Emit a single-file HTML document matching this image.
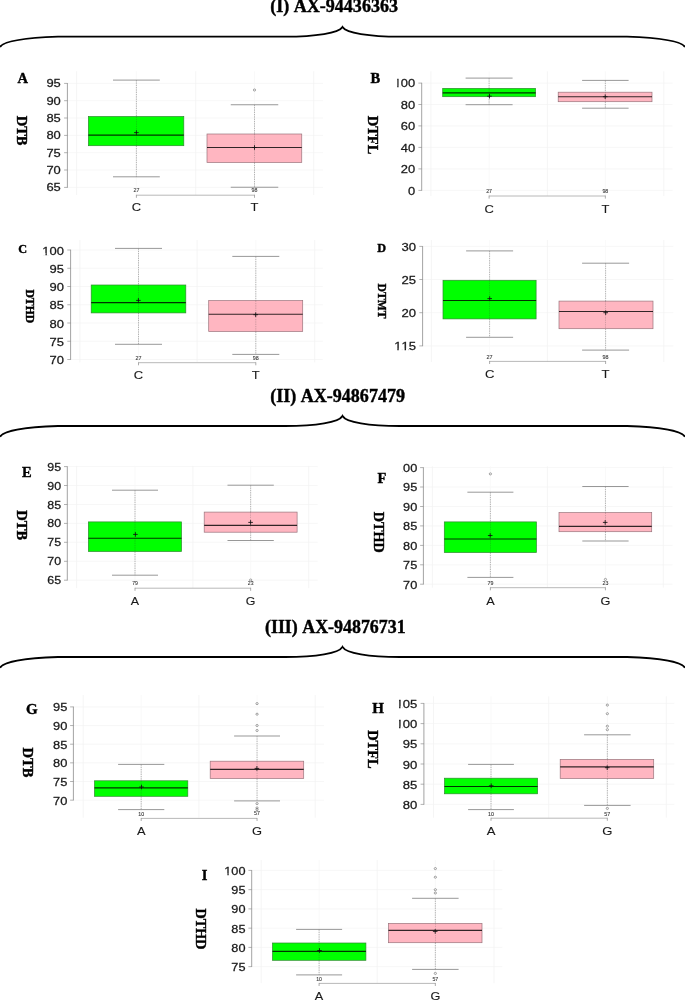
<!DOCTYPE html>
<html><head><meta charset="utf-8"><title>Figure</title>
<style>
html,body{margin:0;padding:0;background:#fff;}
svg{display:block;font-family:"Liberation Sans",sans-serif;font-kerning:none;}
.sf{font-family:"Liberation Serif",serif;font-weight:bold;fill:#000;stroke:#000;stroke-width:0.4px;}
</style></head><body>
<svg width="685" height="1000" viewBox="0 0 685 1000">
<rect width="685" height="1000" fill="#fff"/>
<path d="M0,47 C3,41.5 20,38.0 58,36.6 L285,36.6 C316,36.6 339,33.0 342.5,27.0 C346.0,33.0 369.0,36.6 400.0,36.6 L627.0,36.6 C665.0,38.0 682.0,41.5 685.0,47" fill="none" stroke="#000" stroke-width="1.8" stroke-linejoin="miter" stroke-miterlimit="10"/>
<text x="334.1" y="12" class="sf" font-size="18.05" text-anchor="middle">(I) AX-94436363</text>
<path d="M0,436.8 C3,431.3 20,427.4 58,426.0 L285,426.0 C316,426.0 339,422.4 342.5,416.0 C346.0,422.4 369.0,426.0 400.0,426.0 L627.0,426.0 C665.0,427.4 682.0,431.3 685.0,436.8" fill="none" stroke="#000" stroke-width="1.8" stroke-linejoin="miter" stroke-miterlimit="10"/>
<text x="337.6" y="401.8" class="sf" font-size="18.05" text-anchor="middle">(II) AX-94867479</text>
<path d="M0,667.8 C3,662.3 20,658.4 58,657.0 L285,657.0 C316,657.0 339,653.4 342.5,646.9 C346.0,653.4 369.0,657.0 400.0,657.0 L627.0,657.0 C665.0,658.4 682.0,662.3 685.0,667.8" fill="none" stroke="#000" stroke-width="1.8" stroke-linejoin="miter" stroke-miterlimit="10"/>
<text x="335.3" y="632.8" class="sf" font-size="17.9" text-anchor="middle">(III) AX-94876731</text>
<line x1="67.40" y1="83.40" x2="323.00" y2="83.40" stroke="#f5f5f5" stroke-width="0.8"/>
<line x1="67.40" y1="100.70" x2="323.00" y2="100.70" stroke="#f5f5f5" stroke-width="0.8"/>
<line x1="67.40" y1="118.00" x2="323.00" y2="118.00" stroke="#f5f5f5" stroke-width="0.8"/>
<line x1="67.40" y1="135.40" x2="323.00" y2="135.40" stroke="#f5f5f5" stroke-width="0.8"/>
<line x1="67.40" y1="152.70" x2="323.00" y2="152.70" stroke="#f5f5f5" stroke-width="0.8"/>
<line x1="67.40" y1="170.00" x2="323.00" y2="170.00" stroke="#f5f5f5" stroke-width="0.8"/>
<line x1="67.40" y1="187.40" x2="323.00" y2="187.40" stroke="#f5f5f5" stroke-width="0.8"/>
<line x1="76.60" y1="71.30" x2="76.60" y2="195.00" stroke="#f3f3f3" stroke-width="0.8"/>
<line x1="195.75" y1="71.30" x2="195.75" y2="195.00" stroke="#f3f3f3" stroke-width="0.8"/>
<line x1="313.75" y1="71.30" x2="313.75" y2="195.00" stroke="#f3f3f3" stroke-width="0.8"/>
<line x1="136.40" y1="71.30" x2="136.40" y2="195.00" stroke="#f7f7f7" stroke-width="0.8"/>
<line x1="254.50" y1="71.30" x2="254.50" y2="195.00" stroke="#f7f7f7" stroke-width="0.8"/>
<line x1="67.40" y1="83.10" x2="67.40" y2="187.70" stroke="#8c8c8c" stroke-width="0.8"/>
<line x1="64.10" y1="83.40" x2="67.40" y2="83.40" stroke="#808080" stroke-width="0.6"/>
<line x1="64.10" y1="100.70" x2="67.40" y2="100.70" stroke="#808080" stroke-width="0.6"/>
<line x1="64.10" y1="118.00" x2="67.40" y2="118.00" stroke="#808080" stroke-width="0.6"/>
<line x1="64.10" y1="135.40" x2="67.40" y2="135.40" stroke="#808080" stroke-width="0.6"/>
<line x1="64.10" y1="152.70" x2="67.40" y2="152.70" stroke="#808080" stroke-width="0.6"/>
<line x1="64.10" y1="170.00" x2="67.40" y2="170.00" stroke="#808080" stroke-width="0.6"/>
<line x1="64.10" y1="187.40" x2="67.40" y2="187.40" stroke="#808080" stroke-width="0.6"/>
<text transform="translate(60.75,87.45) scale(1.155,1)" font-size="11.2" text-anchor="end" fill="#1a1a1a" stroke="#1a1a1a" stroke-width="0.26">95</text>
<text transform="translate(60.75,104.75) scale(1.155,1)" font-size="11.2" text-anchor="end" fill="#1a1a1a" stroke="#1a1a1a" stroke-width="0.26">90</text>
<text transform="translate(60.75,122.05) scale(1.155,1)" font-size="11.2" text-anchor="end" fill="#1a1a1a" stroke="#1a1a1a" stroke-width="0.26">85</text>
<text transform="translate(60.75,139.45) scale(1.155,1)" font-size="11.2" text-anchor="end" fill="#1a1a1a" stroke="#1a1a1a" stroke-width="0.26">80</text>
<text transform="translate(60.75,156.75) scale(1.155,1)" font-size="11.2" text-anchor="end" fill="#1a1a1a" stroke="#1a1a1a" stroke-width="0.26">75</text>
<text transform="translate(60.75,174.05) scale(1.155,1)" font-size="11.2" text-anchor="end" fill="#1a1a1a" stroke="#1a1a1a" stroke-width="0.26">70</text>
<text transform="translate(60.75,191.45) scale(1.155,1)" font-size="11.2" text-anchor="end" fill="#1a1a1a" stroke="#1a1a1a" stroke-width="0.26">65</text>
<text x="17.60" y="83.40" class="sf" font-size="14.5" text-anchor="start">A</text>
<text transform="translate(16.80,130.60) rotate(90)" class="sf" font-size="14.5" text-anchor="middle">DTB</text>
<line x1="136.40" y1="80.10" x2="136.40" y2="116.50" stroke="#7a7a7a" stroke-width="0.55" stroke-dasharray="1.4 0.9"/>
<line x1="136.40" y1="145.70" x2="136.40" y2="176.80" stroke="#7a7a7a" stroke-width="0.55" stroke-dasharray="1.4 0.9"/>
<line x1="113.00" y1="80.10" x2="159.80" y2="80.10" stroke="#858585" stroke-width="0.85"/>
<line x1="113.00" y1="176.80" x2="159.80" y2="176.80" stroke="#858585" stroke-width="0.85"/>
<rect x="88.40" y="116.50" width="95.40" height="29.20" fill="#00ff00" stroke="#2e8a2e" stroke-width="0.7"/>
<line x1="136.40" y1="116.50" x2="136.40" y2="145.70" stroke="#333" stroke-width="0.5" stroke-dasharray="1.4 0.9" opacity="0.45"/>
<line x1="88.40" y1="135.10" x2="183.80" y2="135.10" stroke="#000" stroke-width="1.15" opacity="0.8"/>
<line x1="134.10" y1="132.60" x2="138.70" y2="132.60" stroke="#111" stroke-width="0.85"/>
<line x1="136.40" y1="130.30" x2="136.40" y2="134.90" stroke="#111" stroke-width="0.85"/>
<text transform="translate(136.40,192.10) scale(1.155,1)" font-size="4.6" text-anchor="middle" fill="#333" stroke="#333" stroke-width="0.08">27</text>
<text transform="translate(136.40,211.30) scale(1.155,1)" font-size="11.2" text-anchor="middle" fill="#1a1a1a" stroke="#1a1a1a" stroke-width="0.1">C</text>
<line x1="254.50" y1="104.75" x2="254.50" y2="134.00" stroke="#7a7a7a" stroke-width="0.55" stroke-dasharray="1.4 0.9"/>
<line x1="254.50" y1="162.50" x2="254.50" y2="187.25" stroke="#7a7a7a" stroke-width="0.55" stroke-dasharray="1.4 0.9"/>
<line x1="230.75" y1="104.75" x2="278.25" y2="104.75" stroke="#858585" stroke-width="0.85"/>
<line x1="230.75" y1="187.25" x2="278.25" y2="187.25" stroke="#858585" stroke-width="0.85"/>
<rect x="207.00" y="134.00" width="94.75" height="28.50" fill="#ffb6c1" stroke="#9a747c" stroke-width="0.7"/>
<line x1="254.50" y1="134.00" x2="254.50" y2="162.50" stroke="#333" stroke-width="0.5" stroke-dasharray="1.4 0.9" opacity="0.45"/>
<line x1="207.00" y1="147.50" x2="301.75" y2="147.50" stroke="#000" stroke-width="1.15" opacity="0.8"/>
<line x1="252.20" y1="147.50" x2="256.80" y2="147.50" stroke="#111" stroke-width="0.85"/>
<line x1="254.50" y1="145.20" x2="254.50" y2="149.80" stroke="#111" stroke-width="0.85"/>
<ellipse cx="254.50" cy="90.00" rx="1.15" ry="1.05" fill="none" stroke="#505050" stroke-width="0.5"/>
<text transform="translate(254.50,192.10) scale(1.155,1)" font-size="4.6" text-anchor="middle" fill="#333" stroke="#333" stroke-width="0.08">98</text>
<text transform="translate(254.50,211.30) scale(1.155,1)" font-size="11.2" text-anchor="middle" fill="#1a1a1a" stroke="#1a1a1a" stroke-width="0.1">T</text>
<line x1="136.40" y1="195.20" x2="254.50" y2="195.20" stroke="#b0b0b0" stroke-width="0.9"/>
<line x1="136.40" y1="194.80" x2="136.40" y2="197.80" stroke="#888" stroke-width="0.7"/>
<line x1="254.50" y1="194.80" x2="254.50" y2="197.80" stroke="#888" stroke-width="0.7"/>
<line x1="421.70" y1="83.10" x2="672.50" y2="83.10" stroke="#f5f5f5" stroke-width="0.8"/>
<line x1="421.70" y1="104.50" x2="672.50" y2="104.50" stroke="#f5f5f5" stroke-width="0.8"/>
<line x1="421.70" y1="125.90" x2="672.50" y2="125.90" stroke="#f5f5f5" stroke-width="0.8"/>
<line x1="421.70" y1="147.40" x2="672.50" y2="147.40" stroke="#f5f5f5" stroke-width="0.8"/>
<line x1="421.70" y1="168.90" x2="672.50" y2="168.90" stroke="#f5f5f5" stroke-width="0.8"/>
<line x1="421.70" y1="190.40" x2="672.50" y2="190.40" stroke="#f5f5f5" stroke-width="0.8"/>
<line x1="430.90" y1="71.30" x2="430.90" y2="196.00" stroke="#f3f3f3" stroke-width="0.8"/>
<line x1="547.40" y1="71.30" x2="547.40" y2="196.00" stroke="#f3f3f3" stroke-width="0.8"/>
<line x1="663.80" y1="71.30" x2="663.80" y2="196.00" stroke="#f3f3f3" stroke-width="0.8"/>
<line x1="489.10" y1="71.30" x2="489.10" y2="196.00" stroke="#f7f7f7" stroke-width="0.8"/>
<line x1="605.35" y1="71.30" x2="605.35" y2="196.00" stroke="#f7f7f7" stroke-width="0.8"/>
<line x1="421.70" y1="82.80" x2="421.70" y2="190.70" stroke="#8c8c8c" stroke-width="0.8"/>
<line x1="418.40" y1="83.10" x2="421.70" y2="83.10" stroke="#808080" stroke-width="0.6"/>
<line x1="418.40" y1="104.50" x2="421.70" y2="104.50" stroke="#808080" stroke-width="0.6"/>
<line x1="418.40" y1="125.90" x2="421.70" y2="125.90" stroke="#808080" stroke-width="0.6"/>
<line x1="418.40" y1="147.40" x2="421.70" y2="147.40" stroke="#808080" stroke-width="0.6"/>
<line x1="418.40" y1="168.90" x2="421.70" y2="168.90" stroke="#808080" stroke-width="0.6"/>
<line x1="418.40" y1="190.40" x2="421.70" y2="190.40" stroke="#808080" stroke-width="0.6"/>
<text transform="translate(415.20,87.20) scale(1.155,1)" font-size="11.2" text-anchor="end" fill="#1a1a1a" stroke="#1a1a1a" stroke-width="0.26"><tspan>1</tspan><tspan dx="-0.4">00</tspan></text>
<rect x="398.61" y="85.80" width="2.33" height="2.7" fill="#fff"/>
<rect x="384.19" y="77.10" width="13" height="12" fill="#fff"/>
<text transform="translate(415.20,108.60) scale(1.155,1)" font-size="11.2" text-anchor="end" fill="#1a1a1a" stroke="#1a1a1a" stroke-width="0.26">80</text>
<text transform="translate(415.20,130.00) scale(1.155,1)" font-size="11.2" text-anchor="end" fill="#1a1a1a" stroke="#1a1a1a" stroke-width="0.26">60</text>
<text transform="translate(415.20,151.50) scale(1.155,1)" font-size="11.2" text-anchor="end" fill="#1a1a1a" stroke="#1a1a1a" stroke-width="0.26">40</text>
<text transform="translate(415.20,173.00) scale(1.155,1)" font-size="11.2" text-anchor="end" fill="#1a1a1a" stroke="#1a1a1a" stroke-width="0.26">20</text>
<text transform="translate(415.20,194.50) scale(1.155,1)" font-size="11.2" text-anchor="end" fill="#1a1a1a" stroke="#1a1a1a" stroke-width="0.26">0</text>
<text x="370.60" y="83.40" class="sf" font-size="14.5" text-anchor="start">B</text>
<text transform="translate(368.00,135.00) rotate(90)" class="sf" font-size="14.5" text-anchor="middle">DTFL</text>
<line x1="489.10" y1="78.10" x2="489.10" y2="88.40" stroke="#7a7a7a" stroke-width="0.55" stroke-dasharray="1.4 0.9"/>
<line x1="489.10" y1="96.70" x2="489.10" y2="104.70" stroke="#7a7a7a" stroke-width="0.55" stroke-dasharray="1.4 0.9"/>
<line x1="465.60" y1="78.10" x2="512.60" y2="78.10" stroke="#858585" stroke-width="0.85"/>
<line x1="465.60" y1="104.70" x2="512.60" y2="104.70" stroke="#858585" stroke-width="0.85"/>
<rect x="442.70" y="88.40" width="92.90" height="8.30" fill="#00ff00" stroke="#2e8a2e" stroke-width="0.7"/>
<line x1="489.10" y1="88.40" x2="489.10" y2="96.70" stroke="#333" stroke-width="0.5" stroke-dasharray="1.4 0.9" opacity="0.45"/>
<line x1="442.70" y1="92.90" x2="535.60" y2="92.90" stroke="#000" stroke-width="1.15" opacity="0.8"/>
<line x1="487.20" y1="96.20" x2="491.80" y2="96.20" stroke="#111" stroke-width="0.85"/>
<line x1="489.50" y1="93.90" x2="489.50" y2="98.50" stroke="#111" stroke-width="0.85"/>
<text transform="translate(489.10,192.90) scale(1.155,1)" font-size="4.6" text-anchor="middle" fill="#333" stroke="#333" stroke-width="0.08">27</text>
<text transform="translate(489.10,212.70) scale(1.155,1)" font-size="11.2" text-anchor="middle" fill="#1a1a1a" stroke="#1a1a1a" stroke-width="0.1">C</text>
<line x1="605.35" y1="80.40" x2="605.35" y2="92.20" stroke="#7a7a7a" stroke-width="0.55" stroke-dasharray="1.4 0.9"/>
<line x1="605.35" y1="101.70" x2="605.35" y2="108.20" stroke="#7a7a7a" stroke-width="0.55" stroke-dasharray="1.4 0.9"/>
<line x1="582.10" y1="80.40" x2="628.60" y2="80.40" stroke="#858585" stroke-width="0.85"/>
<line x1="582.10" y1="108.20" x2="628.60" y2="108.20" stroke="#858585" stroke-width="0.85"/>
<rect x="558.20" y="92.20" width="93.80" height="9.50" fill="#ffb6c1" stroke="#9a747c" stroke-width="0.7"/>
<line x1="605.35" y1="92.20" x2="605.35" y2="101.70" stroke="#333" stroke-width="0.5" stroke-dasharray="1.4 0.9" opacity="0.45"/>
<line x1="558.20" y1="96.70" x2="652.00" y2="96.70" stroke="#000" stroke-width="1.15" opacity="0.8"/>
<line x1="602.90" y1="96.70" x2="607.50" y2="96.70" stroke="#111" stroke-width="0.85"/>
<line x1="605.20" y1="94.40" x2="605.20" y2="99.00" stroke="#111" stroke-width="0.85"/>
<text transform="translate(605.35,192.90) scale(1.155,1)" font-size="4.6" text-anchor="middle" fill="#333" stroke="#333" stroke-width="0.08">98</text>
<text transform="translate(605.35,212.70) scale(1.155,1)" font-size="11.2" text-anchor="middle" fill="#1a1a1a" stroke="#1a1a1a" stroke-width="0.1">T</text>
<line x1="489.10" y1="196.00" x2="605.35" y2="196.00" stroke="#b0b0b0" stroke-width="0.9"/>
<line x1="489.10" y1="195.60" x2="489.10" y2="198.60" stroke="#888" stroke-width="0.7"/>
<line x1="605.35" y1="195.60" x2="605.35" y2="198.60" stroke="#888" stroke-width="0.7"/>
<line x1="70.60" y1="250.00" x2="322.80" y2="250.00" stroke="#f5f5f5" stroke-width="0.8"/>
<line x1="70.60" y1="268.25" x2="322.80" y2="268.25" stroke="#f5f5f5" stroke-width="0.8"/>
<line x1="70.60" y1="286.50" x2="322.80" y2="286.50" stroke="#f5f5f5" stroke-width="0.8"/>
<line x1="70.60" y1="304.75" x2="322.80" y2="304.75" stroke="#f5f5f5" stroke-width="0.8"/>
<line x1="70.60" y1="323.00" x2="322.80" y2="323.00" stroke="#f5f5f5" stroke-width="0.8"/>
<line x1="70.60" y1="341.25" x2="322.80" y2="341.25" stroke="#f5f5f5" stroke-width="0.8"/>
<line x1="70.60" y1="359.50" x2="322.80" y2="359.50" stroke="#f5f5f5" stroke-width="0.8"/>
<line x1="79.90" y1="240.00" x2="79.90" y2="362.40" stroke="#f3f3f3" stroke-width="0.8"/>
<line x1="197.10" y1="240.00" x2="197.10" y2="362.40" stroke="#f3f3f3" stroke-width="0.8"/>
<line x1="314.70" y1="240.00" x2="314.70" y2="362.40" stroke="#f3f3f3" stroke-width="0.8"/>
<line x1="138.50" y1="240.00" x2="138.50" y2="362.40" stroke="#f7f7f7" stroke-width="0.8"/>
<line x1="255.80" y1="240.00" x2="255.80" y2="362.40" stroke="#f7f7f7" stroke-width="0.8"/>
<line x1="70.60" y1="249.70" x2="70.60" y2="359.80" stroke="#8c8c8c" stroke-width="0.8"/>
<line x1="67.30" y1="250.00" x2="70.60" y2="250.00" stroke="#808080" stroke-width="0.6"/>
<line x1="67.30" y1="268.25" x2="70.60" y2="268.25" stroke="#808080" stroke-width="0.6"/>
<line x1="67.30" y1="286.50" x2="70.60" y2="286.50" stroke="#808080" stroke-width="0.6"/>
<line x1="67.30" y1="304.75" x2="70.60" y2="304.75" stroke="#808080" stroke-width="0.6"/>
<line x1="67.30" y1="323.00" x2="70.60" y2="323.00" stroke="#808080" stroke-width="0.6"/>
<line x1="67.30" y1="341.25" x2="70.60" y2="341.25" stroke="#808080" stroke-width="0.6"/>
<line x1="67.30" y1="359.50" x2="70.60" y2="359.50" stroke="#808080" stroke-width="0.6"/>
<text transform="translate(64.00,254.50) scale(1.16,1)" font-size="11.2" text-anchor="end" fill="#1a1a1a" stroke="#1a1a1a" stroke-width="0.26">100</text>
<rect x="43.01" y="253.10" width="2.44" height="2.7" fill="#fff"/>
<rect x="46.88" y="253.10" width="2.34" height="2.7" fill="#fff"/>
<text transform="translate(64.00,272.75) scale(1.16,1)" font-size="11.2" text-anchor="end" fill="#1a1a1a" stroke="#1a1a1a" stroke-width="0.26">95</text>
<text transform="translate(64.00,291.00) scale(1.16,1)" font-size="11.2" text-anchor="end" fill="#1a1a1a" stroke="#1a1a1a" stroke-width="0.26">90</text>
<text transform="translate(64.00,309.25) scale(1.16,1)" font-size="11.2" text-anchor="end" fill="#1a1a1a" stroke="#1a1a1a" stroke-width="0.26">85</text>
<text transform="translate(64.00,327.50) scale(1.16,1)" font-size="11.2" text-anchor="end" fill="#1a1a1a" stroke="#1a1a1a" stroke-width="0.26">80</text>
<text transform="translate(64.00,345.75) scale(1.16,1)" font-size="11.2" text-anchor="end" fill="#1a1a1a" stroke="#1a1a1a" stroke-width="0.26">75</text>
<text transform="translate(64.00,364.00) scale(1.16,1)" font-size="11.2" text-anchor="end" fill="#1a1a1a" stroke="#1a1a1a" stroke-width="0.26">70</text>
<text x="18.20" y="253.30" class="sf" font-size="12.2" text-anchor="start">C</text>
<text transform="translate(26.30,306.30) rotate(90)" class="sf" font-size="11.7" text-anchor="middle">DTHD</text>
<line x1="138.50" y1="248.40" x2="138.50" y2="285.00" stroke="#7a7a7a" stroke-width="0.55" stroke-dasharray="1.4 0.9"/>
<line x1="138.50" y1="312.90" x2="138.50" y2="344.30" stroke="#7a7a7a" stroke-width="0.55" stroke-dasharray="1.4 0.9"/>
<line x1="115.00" y1="248.40" x2="162.00" y2="248.40" stroke="#858585" stroke-width="0.85"/>
<line x1="115.00" y1="344.30" x2="162.00" y2="344.30" stroke="#858585" stroke-width="0.85"/>
<rect x="91.20" y="285.00" width="94.60" height="27.90" fill="#00ff00" stroke="#2e8a2e" stroke-width="0.7"/>
<line x1="138.50" y1="285.00" x2="138.50" y2="312.90" stroke="#333" stroke-width="0.5" stroke-dasharray="1.4 0.9" opacity="0.45"/>
<line x1="91.20" y1="302.60" x2="185.80" y2="302.60" stroke="#000" stroke-width="1.15" opacity="0.8"/>
<line x1="136.10" y1="300.40" x2="140.70" y2="300.40" stroke="#111" stroke-width="0.85"/>
<line x1="138.40" y1="298.10" x2="138.40" y2="302.70" stroke="#111" stroke-width="0.85"/>
<text transform="translate(138.50,359.60) scale(1.16,1)" font-size="4.6" text-anchor="middle" fill="#333" stroke="#333" stroke-width="0.08">27</text>
<text transform="translate(138.50,379.00) scale(1.16,1)" font-size="11.2" text-anchor="middle" fill="#1a1a1a" stroke="#1a1a1a" stroke-width="0.1">C</text>
<line x1="255.80" y1="256.40" x2="255.80" y2="300.60" stroke="#7a7a7a" stroke-width="0.55" stroke-dasharray="1.4 0.9"/>
<line x1="255.80" y1="331.50" x2="255.80" y2="354.40" stroke="#7a7a7a" stroke-width="0.55" stroke-dasharray="1.4 0.9"/>
<line x1="232.30" y1="256.40" x2="279.30" y2="256.40" stroke="#858585" stroke-width="0.85"/>
<line x1="232.30" y1="354.40" x2="279.30" y2="354.40" stroke="#858585" stroke-width="0.85"/>
<rect x="208.70" y="300.60" width="94.00" height="30.90" fill="#ffb6c1" stroke="#9a747c" stroke-width="0.7"/>
<line x1="255.80" y1="300.60" x2="255.80" y2="331.50" stroke="#333" stroke-width="0.5" stroke-dasharray="1.4 0.9" opacity="0.45"/>
<line x1="208.70" y1="314.20" x2="302.70" y2="314.20" stroke="#000" stroke-width="1.15" opacity="0.8"/>
<line x1="253.40" y1="314.70" x2="258.00" y2="314.70" stroke="#111" stroke-width="0.85"/>
<line x1="255.70" y1="312.40" x2="255.70" y2="317.00" stroke="#111" stroke-width="0.85"/>
<text transform="translate(255.80,359.60) scale(1.16,1)" font-size="4.6" text-anchor="middle" fill="#333" stroke="#333" stroke-width="0.08">98</text>
<text transform="translate(255.80,379.00) scale(1.16,1)" font-size="11.2" text-anchor="middle" fill="#1a1a1a" stroke="#1a1a1a" stroke-width="0.1">T</text>
<line x1="138.50" y1="362.70" x2="255.80" y2="362.70" stroke="#b0b0b0" stroke-width="0.9"/>
<line x1="138.50" y1="362.30" x2="138.50" y2="365.30" stroke="#888" stroke-width="0.7"/>
<line x1="255.80" y1="362.30" x2="255.80" y2="365.30" stroke="#888" stroke-width="0.7"/>
<line x1="422.60" y1="246.40" x2="673.30" y2="246.40" stroke="#f5f5f5" stroke-width="0.8"/>
<line x1="422.60" y1="279.50" x2="673.30" y2="279.50" stroke="#f5f5f5" stroke-width="0.8"/>
<line x1="422.60" y1="312.70" x2="673.30" y2="312.70" stroke="#f5f5f5" stroke-width="0.8"/>
<line x1="422.60" y1="345.90" x2="673.30" y2="345.90" stroke="#f5f5f5" stroke-width="0.8"/>
<line x1="431.40" y1="240.00" x2="431.40" y2="362.00" stroke="#f3f3f3" stroke-width="0.8"/>
<line x1="547.40" y1="240.00" x2="547.40" y2="362.00" stroke="#f3f3f3" stroke-width="0.8"/>
<line x1="663.80" y1="240.00" x2="663.80" y2="362.00" stroke="#f3f3f3" stroke-width="0.8"/>
<line x1="489.60" y1="240.00" x2="489.60" y2="362.00" stroke="#f7f7f7" stroke-width="0.8"/>
<line x1="605.60" y1="240.00" x2="605.60" y2="362.00" stroke="#f7f7f7" stroke-width="0.8"/>
<line x1="422.60" y1="246.10" x2="422.60" y2="346.20" stroke="#8c8c8c" stroke-width="0.8"/>
<line x1="419.30" y1="246.40" x2="422.60" y2="246.40" stroke="#808080" stroke-width="0.6"/>
<line x1="419.30" y1="279.50" x2="422.60" y2="279.50" stroke="#808080" stroke-width="0.6"/>
<line x1="419.30" y1="312.70" x2="422.60" y2="312.70" stroke="#808080" stroke-width="0.6"/>
<line x1="419.30" y1="345.90" x2="422.60" y2="345.90" stroke="#808080" stroke-width="0.6"/>
<text transform="translate(416.00,250.60) scale(1.17,1)" font-size="11.2" text-anchor="end" fill="#1a1a1a" stroke="#1a1a1a" stroke-width="0.26">30</text>
<text transform="translate(416.00,283.70) scale(1.17,1)" font-size="11.2" text-anchor="end" fill="#1a1a1a" stroke="#1a1a1a" stroke-width="0.26">25</text>
<text transform="translate(416.00,316.90) scale(1.17,1)" font-size="11.2" text-anchor="end" fill="#1a1a1a" stroke="#1a1a1a" stroke-width="0.26">20</text>
<text transform="translate(416.00,350.10) scale(1.17,1)" font-size="11.2" text-anchor="end" fill="#1a1a1a" stroke="#1a1a1a" stroke-width="0.26">115</text>
<rect x="394.83" y="348.70" width="2.46" height="2.7" fill="#fff"/>
<rect x="398.73" y="348.70" width="2.35" height="2.7" fill="#fff"/>
<rect x="402.12" y="348.70" width="2.46" height="2.7" fill="#fff"/>
<rect x="406.02" y="348.70" width="2.35" height="2.7" fill="#fff"/>
<text x="377.20" y="251.60" class="sf" font-size="12.2" text-anchor="start">D</text>
<text transform="translate(377.80,301.00) rotate(90)" class="sf" font-size="11.6" text-anchor="middle">DTMT</text>
<line x1="489.60" y1="250.90" x2="489.60" y2="280.30" stroke="#7a7a7a" stroke-width="0.55" stroke-dasharray="1.4 0.9"/>
<line x1="489.60" y1="318.90" x2="489.60" y2="337.30" stroke="#7a7a7a" stroke-width="0.55" stroke-dasharray="1.4 0.9"/>
<line x1="466.10" y1="250.90" x2="513.10" y2="250.90" stroke="#858585" stroke-width="0.85"/>
<line x1="466.10" y1="337.30" x2="513.10" y2="337.30" stroke="#858585" stroke-width="0.85"/>
<rect x="443.00" y="280.30" width="93.10" height="38.60" fill="#00ff00" stroke="#2e8a2e" stroke-width="0.7"/>
<line x1="489.60" y1="280.30" x2="489.60" y2="318.90" stroke="#333" stroke-width="0.5" stroke-dasharray="1.4 0.9" opacity="0.45"/>
<line x1="443.00" y1="300.50" x2="536.10" y2="300.50" stroke="#000" stroke-width="1.15" opacity="0.8"/>
<line x1="487.40" y1="298.60" x2="492.00" y2="298.60" stroke="#111" stroke-width="0.85"/>
<line x1="489.70" y1="296.30" x2="489.70" y2="300.90" stroke="#111" stroke-width="0.85"/>
<text transform="translate(489.60,358.60) scale(1.17,1)" font-size="4.6" text-anchor="middle" fill="#333" stroke="#333" stroke-width="0.08">27</text>
<text transform="translate(489.60,378.00) scale(1.17,1)" font-size="11.2" text-anchor="middle" fill="#1a1a1a" stroke="#1a1a1a" stroke-width="0.1">C</text>
<line x1="605.60" y1="263.20" x2="605.60" y2="301.10" stroke="#7a7a7a" stroke-width="0.55" stroke-dasharray="1.4 0.9"/>
<line x1="605.60" y1="328.70" x2="605.60" y2="350.10" stroke="#7a7a7a" stroke-width="0.55" stroke-dasharray="1.4 0.9"/>
<line x1="582.10" y1="263.20" x2="629.10" y2="263.20" stroke="#858585" stroke-width="0.85"/>
<line x1="582.10" y1="350.10" x2="629.10" y2="350.10" stroke="#858585" stroke-width="0.85"/>
<rect x="559.00" y="301.10" width="94.00" height="27.60" fill="#ffb6c1" stroke="#9a747c" stroke-width="0.7"/>
<line x1="605.60" y1="301.10" x2="605.60" y2="328.70" stroke="#333" stroke-width="0.5" stroke-dasharray="1.4 0.9" opacity="0.45"/>
<line x1="559.00" y1="311.50" x2="653.00" y2="311.50" stroke="#000" stroke-width="1.15" opacity="0.8"/>
<line x1="603.40" y1="312.70" x2="608.00" y2="312.70" stroke="#111" stroke-width="0.85"/>
<line x1="605.70" y1="310.40" x2="605.70" y2="315.00" stroke="#111" stroke-width="0.85"/>
<text transform="translate(605.60,358.60) scale(1.17,1)" font-size="4.6" text-anchor="middle" fill="#333" stroke="#333" stroke-width="0.08">98</text>
<text transform="translate(605.60,378.00) scale(1.17,1)" font-size="11.2" text-anchor="middle" fill="#1a1a1a" stroke="#1a1a1a" stroke-width="0.1">T</text>
<line x1="489.60" y1="361.40" x2="605.60" y2="361.40" stroke="#b0b0b0" stroke-width="0.9"/>
<line x1="489.60" y1="361.00" x2="489.60" y2="364.00" stroke="#888" stroke-width="0.7"/>
<line x1="605.60" y1="361.00" x2="605.60" y2="364.00" stroke="#888" stroke-width="0.7"/>
<line x1="67.30" y1="466.60" x2="317.70" y2="466.60" stroke="#f5f5f5" stroke-width="0.8"/>
<line x1="67.30" y1="485.50" x2="317.70" y2="485.50" stroke="#f5f5f5" stroke-width="0.8"/>
<line x1="67.30" y1="504.50" x2="317.70" y2="504.50" stroke="#f5f5f5" stroke-width="0.8"/>
<line x1="67.30" y1="523.40" x2="317.70" y2="523.40" stroke="#f5f5f5" stroke-width="0.8"/>
<line x1="67.30" y1="542.30" x2="317.70" y2="542.30" stroke="#f5f5f5" stroke-width="0.8"/>
<line x1="67.30" y1="561.30" x2="317.70" y2="561.30" stroke="#f5f5f5" stroke-width="0.8"/>
<line x1="67.30" y1="580.20" x2="317.70" y2="580.20" stroke="#f5f5f5" stroke-width="0.8"/>
<line x1="76.60" y1="465.90" x2="76.60" y2="588.20" stroke="#f3f3f3" stroke-width="0.8"/>
<line x1="192.90" y1="465.90" x2="192.90" y2="588.20" stroke="#f3f3f3" stroke-width="0.8"/>
<line x1="308.70" y1="465.90" x2="308.70" y2="588.20" stroke="#f3f3f3" stroke-width="0.8"/>
<line x1="135.00" y1="465.90" x2="135.00" y2="588.20" stroke="#f7f7f7" stroke-width="0.8"/>
<line x1="250.65" y1="465.90" x2="250.65" y2="588.20" stroke="#f7f7f7" stroke-width="0.8"/>
<line x1="67.30" y1="466.30" x2="67.30" y2="580.50" stroke="#8c8c8c" stroke-width="0.8"/>
<line x1="64.00" y1="466.60" x2="67.30" y2="466.60" stroke="#808080" stroke-width="0.6"/>
<line x1="64.00" y1="485.50" x2="67.30" y2="485.50" stroke="#808080" stroke-width="0.6"/>
<line x1="64.00" y1="504.50" x2="67.30" y2="504.50" stroke="#808080" stroke-width="0.6"/>
<line x1="64.00" y1="523.40" x2="67.30" y2="523.40" stroke="#808080" stroke-width="0.6"/>
<line x1="64.00" y1="542.30" x2="67.30" y2="542.30" stroke="#808080" stroke-width="0.6"/>
<line x1="64.00" y1="561.30" x2="67.30" y2="561.30" stroke="#808080" stroke-width="0.6"/>
<line x1="64.00" y1="580.20" x2="67.30" y2="580.20" stroke="#808080" stroke-width="0.6"/>
<text transform="translate(61.20,470.60) scale(1.11,1)" font-size="11.2" text-anchor="end" fill="#1a1a1a" stroke="#1a1a1a" stroke-width="0.26">95</text>
<text transform="translate(61.20,489.50) scale(1.11,1)" font-size="11.2" text-anchor="end" fill="#1a1a1a" stroke="#1a1a1a" stroke-width="0.26">90</text>
<text transform="translate(61.20,508.50) scale(1.11,1)" font-size="11.2" text-anchor="end" fill="#1a1a1a" stroke="#1a1a1a" stroke-width="0.26">85</text>
<text transform="translate(61.20,527.40) scale(1.11,1)" font-size="11.2" text-anchor="end" fill="#1a1a1a" stroke="#1a1a1a" stroke-width="0.26">80</text>
<text transform="translate(61.20,546.30) scale(1.11,1)" font-size="11.2" text-anchor="end" fill="#1a1a1a" stroke="#1a1a1a" stroke-width="0.26">75</text>
<text transform="translate(61.20,565.30) scale(1.11,1)" font-size="11.2" text-anchor="end" fill="#1a1a1a" stroke="#1a1a1a" stroke-width="0.26">70</text>
<text transform="translate(61.20,584.20) scale(1.11,1)" font-size="11.2" text-anchor="end" fill="#1a1a1a" stroke="#1a1a1a" stroke-width="0.26">65</text>
<text x="21.90" y="476.90" class="sf" font-size="14.5" text-anchor="start">E</text>
<text transform="translate(17.10,525.20) rotate(90)" class="sf" font-size="14.5" text-anchor="middle">DTB</text>
<line x1="135.00" y1="490.20" x2="135.00" y2="521.90" stroke="#7a7a7a" stroke-width="0.55" stroke-dasharray="1.4 0.9"/>
<line x1="135.00" y1="551.50" x2="135.00" y2="575.20" stroke="#7a7a7a" stroke-width="0.55" stroke-dasharray="1.4 0.9"/>
<line x1="112.00" y1="490.20" x2="158.00" y2="490.20" stroke="#858585" stroke-width="0.85"/>
<line x1="112.00" y1="575.20" x2="158.00" y2="575.20" stroke="#858585" stroke-width="0.85"/>
<rect x="88.40" y="521.90" width="93.10" height="29.60" fill="#00ff00" stroke="#2e8a2e" stroke-width="0.7"/>
<line x1="135.00" y1="521.90" x2="135.00" y2="551.50" stroke="#333" stroke-width="0.5" stroke-dasharray="1.4 0.9" opacity="0.45"/>
<line x1="88.40" y1="538.20" x2="181.50" y2="538.20" stroke="#000" stroke-width="1.15" opacity="0.8"/>
<line x1="133.10" y1="534.40" x2="137.70" y2="534.40" stroke="#111" stroke-width="0.85"/>
<line x1="135.40" y1="532.10" x2="135.40" y2="536.70" stroke="#111" stroke-width="0.85"/>
<text transform="translate(135.00,585.10) scale(1.11,1)" font-size="4.6" text-anchor="middle" fill="#333" stroke="#333" stroke-width="0.08">79</text>
<text transform="translate(135.00,604.80) scale(1.11,1)" font-size="11.2" text-anchor="middle" fill="#1a1a1a" stroke="#1a1a1a" stroke-width="0.1">A</text>
<line x1="250.65" y1="485.20" x2="250.65" y2="512.10" stroke="#7a7a7a" stroke-width="0.55" stroke-dasharray="1.4 0.9"/>
<line x1="250.65" y1="532.20" x2="250.65" y2="540.50" stroke="#7a7a7a" stroke-width="0.55" stroke-dasharray="1.4 0.9"/>
<line x1="227.50" y1="485.20" x2="273.80" y2="485.20" stroke="#858585" stroke-width="0.85"/>
<line x1="227.50" y1="540.50" x2="273.80" y2="540.50" stroke="#858585" stroke-width="0.85"/>
<rect x="204.20" y="512.10" width="92.90" height="20.10" fill="#ffb6c1" stroke="#9a747c" stroke-width="0.7"/>
<line x1="250.65" y1="512.10" x2="250.65" y2="532.20" stroke="#333" stroke-width="0.5" stroke-dasharray="1.4 0.9" opacity="0.45"/>
<line x1="204.20" y1="525.40" x2="297.10" y2="525.40" stroke="#000" stroke-width="1.15" opacity="0.8"/>
<line x1="248.30" y1="522.40" x2="252.90" y2="522.40" stroke="#111" stroke-width="0.85"/>
<line x1="250.60" y1="520.10" x2="250.60" y2="524.70" stroke="#111" stroke-width="0.85"/>
<ellipse cx="250.65" cy="580.00" rx="1.15" ry="1.05" fill="none" stroke="#505050" stroke-width="0.5"/>
<text transform="translate(250.65,585.10) scale(1.11,1)" font-size="4.6" text-anchor="middle" fill="#333" stroke="#333" stroke-width="0.08">23</text>
<text transform="translate(250.65,604.80) scale(1.11,1)" font-size="11.2" text-anchor="middle" fill="#1a1a1a" stroke="#1a1a1a" stroke-width="0.1">G</text>
<line x1="135.00" y1="588.20" x2="250.65" y2="588.20" stroke="#b0b0b0" stroke-width="0.9"/>
<line x1="135.00" y1="587.80" x2="135.00" y2="590.80" stroke="#888" stroke-width="0.7"/>
<line x1="250.65" y1="587.80" x2="250.65" y2="590.80" stroke="#888" stroke-width="0.7"/>
<line x1="423.40" y1="467.60" x2="672.50" y2="467.60" stroke="#f5f5f5" stroke-width="0.8"/>
<line x1="423.40" y1="487.00" x2="672.50" y2="487.00" stroke="#f5f5f5" stroke-width="0.8"/>
<line x1="423.40" y1="506.50" x2="672.50" y2="506.50" stroke="#f5f5f5" stroke-width="0.8"/>
<line x1="423.40" y1="525.90" x2="672.50" y2="525.90" stroke="#f5f5f5" stroke-width="0.8"/>
<line x1="423.40" y1="545.40" x2="672.50" y2="545.40" stroke="#f5f5f5" stroke-width="0.8"/>
<line x1="423.40" y1="564.80" x2="672.50" y2="564.80" stroke="#f5f5f5" stroke-width="0.8"/>
<line x1="423.40" y1="584.20" x2="672.50" y2="584.20" stroke="#f5f5f5" stroke-width="0.8"/>
<line x1="432.40" y1="466.40" x2="432.40" y2="587.70" stroke="#f3f3f3" stroke-width="0.8"/>
<line x1="547.40" y1="466.40" x2="547.40" y2="587.70" stroke="#f3f3f3" stroke-width="0.8"/>
<line x1="663.30" y1="466.40" x2="663.30" y2="587.70" stroke="#f3f3f3" stroke-width="0.8"/>
<line x1="490.40" y1="466.40" x2="490.40" y2="587.70" stroke="#f7f7f7" stroke-width="0.8"/>
<line x1="605.45" y1="466.40" x2="605.45" y2="587.70" stroke="#f7f7f7" stroke-width="0.8"/>
<line x1="423.40" y1="467.30" x2="423.40" y2="584.50" stroke="#8c8c8c" stroke-width="0.8"/>
<line x1="420.10" y1="467.60" x2="423.40" y2="467.60" stroke="#808080" stroke-width="0.6"/>
<line x1="420.10" y1="487.00" x2="423.40" y2="487.00" stroke="#808080" stroke-width="0.6"/>
<line x1="420.10" y1="506.50" x2="423.40" y2="506.50" stroke="#808080" stroke-width="0.6"/>
<line x1="420.10" y1="525.90" x2="423.40" y2="525.90" stroke="#808080" stroke-width="0.6"/>
<line x1="420.10" y1="545.40" x2="423.40" y2="545.40" stroke="#808080" stroke-width="0.6"/>
<line x1="420.10" y1="564.80" x2="423.40" y2="564.80" stroke="#808080" stroke-width="0.6"/>
<line x1="420.10" y1="584.20" x2="423.40" y2="584.20" stroke="#808080" stroke-width="0.6"/>
<text transform="translate(417.30,472.00) scale(1.14,1)" font-size="11.2" text-anchor="end" fill="#1a1a1a" stroke="#1a1a1a" stroke-width="0.26">100</text>
<rect x="389.82" y="461.60" width="13" height="12" fill="#fff"/>
<text transform="translate(417.30,491.40) scale(1.14,1)" font-size="11.2" text-anchor="end" fill="#1a1a1a" stroke="#1a1a1a" stroke-width="0.26">95</text>
<text transform="translate(417.30,510.90) scale(1.14,1)" font-size="11.2" text-anchor="end" fill="#1a1a1a" stroke="#1a1a1a" stroke-width="0.26">90</text>
<text transform="translate(417.30,530.30) scale(1.14,1)" font-size="11.2" text-anchor="end" fill="#1a1a1a" stroke="#1a1a1a" stroke-width="0.26">85</text>
<text transform="translate(417.30,549.80) scale(1.14,1)" font-size="11.2" text-anchor="end" fill="#1a1a1a" stroke="#1a1a1a" stroke-width="0.26">80</text>
<text transform="translate(417.30,569.20) scale(1.14,1)" font-size="11.2" text-anchor="end" fill="#1a1a1a" stroke="#1a1a1a" stroke-width="0.26">75</text>
<text transform="translate(417.30,588.60) scale(1.14,1)" font-size="11.2" text-anchor="end" fill="#1a1a1a" stroke="#1a1a1a" stroke-width="0.26">70</text>
<text x="377.40" y="483.20" class="sf" font-size="14.5" text-anchor="start">F</text>
<text transform="translate(374.00,532.30) rotate(90)" class="sf" font-size="14.2" text-anchor="middle">DTHD</text>
<line x1="490.40" y1="492.20" x2="490.40" y2="521.90" stroke="#7a7a7a" stroke-width="0.55" stroke-dasharray="1.4 0.9"/>
<line x1="490.40" y1="552.50" x2="490.40" y2="577.40" stroke="#7a7a7a" stroke-width="0.55" stroke-dasharray="1.4 0.9"/>
<line x1="467.40" y1="492.20" x2="513.40" y2="492.20" stroke="#858585" stroke-width="0.85"/>
<line x1="467.40" y1="577.40" x2="513.40" y2="577.40" stroke="#858585" stroke-width="0.85"/>
<rect x="444.30" y="521.90" width="92.10" height="30.60" fill="#00ff00" stroke="#2e8a2e" stroke-width="0.7"/>
<line x1="490.40" y1="521.90" x2="490.40" y2="552.50" stroke="#333" stroke-width="0.5" stroke-dasharray="1.4 0.9" opacity="0.45"/>
<line x1="444.30" y1="539.00" x2="536.40" y2="539.00" stroke="#000" stroke-width="1.15" opacity="0.8"/>
<line x1="487.90" y1="535.50" x2="492.50" y2="535.50" stroke="#111" stroke-width="0.85"/>
<line x1="490.20" y1="533.20" x2="490.20" y2="537.80" stroke="#111" stroke-width="0.85"/>
<ellipse cx="490.40" cy="473.90" rx="1.15" ry="1.05" fill="none" stroke="#505050" stroke-width="0.5"/>
<text transform="translate(490.40,584.90) scale(1.14,1)" font-size="4.6" text-anchor="middle" fill="#333" stroke="#333" stroke-width="0.08">79</text>
<text transform="translate(490.40,604.80) scale(1.14,1)" font-size="11.2" text-anchor="middle" fill="#1a1a1a" stroke="#1a1a1a" stroke-width="0.1">A</text>
<line x1="605.45" y1="486.50" x2="605.45" y2="512.60" stroke="#7a7a7a" stroke-width="0.55" stroke-dasharray="1.4 0.9"/>
<line x1="605.45" y1="531.70" x2="605.45" y2="541.00" stroke="#7a7a7a" stroke-width="0.55" stroke-dasharray="1.4 0.9"/>
<line x1="582.30" y1="486.50" x2="628.60" y2="486.50" stroke="#858585" stroke-width="0.85"/>
<line x1="582.30" y1="541.00" x2="628.60" y2="541.00" stroke="#858585" stroke-width="0.85"/>
<rect x="559.00" y="512.60" width="92.70" height="19.10" fill="#ffb6c1" stroke="#9a747c" stroke-width="0.7"/>
<line x1="605.45" y1="512.60" x2="605.45" y2="531.70" stroke="#333" stroke-width="0.5" stroke-dasharray="1.4 0.9" opacity="0.45"/>
<line x1="559.00" y1="526.40" x2="651.70" y2="526.40" stroke="#000" stroke-width="1.15" opacity="0.8"/>
<line x1="602.90" y1="522.40" x2="607.50" y2="522.40" stroke="#111" stroke-width="0.85"/>
<line x1="605.20" y1="520.10" x2="605.20" y2="524.70" stroke="#111" stroke-width="0.85"/>
<ellipse cx="605.45" cy="579.40" rx="1.15" ry="1.05" fill="none" stroke="#505050" stroke-width="0.5"/>
<text transform="translate(605.45,584.90) scale(1.14,1)" font-size="4.6" text-anchor="middle" fill="#333" stroke="#333" stroke-width="0.08">23</text>
<text transform="translate(605.45,604.80) scale(1.14,1)" font-size="11.2" text-anchor="middle" fill="#1a1a1a" stroke="#1a1a1a" stroke-width="0.1">G</text>
<line x1="490.40" y1="587.70" x2="605.45" y2="587.70" stroke="#b0b0b0" stroke-width="0.9"/>
<line x1="490.40" y1="587.30" x2="490.40" y2="590.30" stroke="#888" stroke-width="0.7"/>
<line x1="605.45" y1="587.30" x2="605.45" y2="590.30" stroke="#888" stroke-width="0.7"/>
<line x1="73.40" y1="706.90" x2="324.00" y2="706.90" stroke="#f5f5f5" stroke-width="0.8"/>
<line x1="73.40" y1="725.55" x2="324.00" y2="725.55" stroke="#f5f5f5" stroke-width="0.8"/>
<line x1="73.40" y1="744.20" x2="324.00" y2="744.20" stroke="#f5f5f5" stroke-width="0.8"/>
<line x1="73.40" y1="762.85" x2="324.00" y2="762.85" stroke="#f5f5f5" stroke-width="0.8"/>
<line x1="73.40" y1="781.50" x2="324.00" y2="781.50" stroke="#f5f5f5" stroke-width="0.8"/>
<line x1="73.40" y1="800.15" x2="324.00" y2="800.15" stroke="#f5f5f5" stroke-width="0.8"/>
<line x1="83.20" y1="695.00" x2="83.20" y2="817.70" stroke="#f3f3f3" stroke-width="0.8"/>
<line x1="198.90" y1="695.00" x2="198.90" y2="817.70" stroke="#f3f3f3" stroke-width="0.8"/>
<line x1="315.20" y1="695.00" x2="315.20" y2="817.70" stroke="#f3f3f3" stroke-width="0.8"/>
<line x1="141.20" y1="695.00" x2="141.20" y2="817.70" stroke="#f7f7f7" stroke-width="0.8"/>
<line x1="257.05" y1="695.00" x2="257.05" y2="817.70" stroke="#f7f7f7" stroke-width="0.8"/>
<line x1="73.40" y1="706.60" x2="73.40" y2="800.45" stroke="#8c8c8c" stroke-width="0.8"/>
<line x1="70.10" y1="706.90" x2="73.40" y2="706.90" stroke="#808080" stroke-width="0.6"/>
<line x1="70.10" y1="725.55" x2="73.40" y2="725.55" stroke="#808080" stroke-width="0.6"/>
<line x1="70.10" y1="744.20" x2="73.40" y2="744.20" stroke="#808080" stroke-width="0.6"/>
<line x1="70.10" y1="762.85" x2="73.40" y2="762.85" stroke="#808080" stroke-width="0.6"/>
<line x1="70.10" y1="781.50" x2="73.40" y2="781.50" stroke="#808080" stroke-width="0.6"/>
<line x1="70.10" y1="800.15" x2="73.40" y2="800.15" stroke="#808080" stroke-width="0.6"/>
<text transform="translate(67.40,711.40) scale(1.15,1)" font-size="11.2" text-anchor="end" fill="#1a1a1a" stroke="#1a1a1a" stroke-width="0.26">95</text>
<text transform="translate(67.40,730.05) scale(1.15,1)" font-size="11.2" text-anchor="end" fill="#1a1a1a" stroke="#1a1a1a" stroke-width="0.26">90</text>
<text transform="translate(67.40,748.70) scale(1.15,1)" font-size="11.2" text-anchor="end" fill="#1a1a1a" stroke="#1a1a1a" stroke-width="0.26">85</text>
<text transform="translate(67.40,767.35) scale(1.15,1)" font-size="11.2" text-anchor="end" fill="#1a1a1a" stroke="#1a1a1a" stroke-width="0.26">80</text>
<text transform="translate(67.40,786.00) scale(1.15,1)" font-size="11.2" text-anchor="end" fill="#1a1a1a" stroke="#1a1a1a" stroke-width="0.26">75</text>
<text transform="translate(67.40,804.65) scale(1.15,1)" font-size="11.2" text-anchor="end" fill="#1a1a1a" stroke="#1a1a1a" stroke-width="0.26">70</text>
<text x="26.00" y="713.50" class="sf" font-size="15" text-anchor="start">G</text>
<text transform="translate(22.50,762.50) rotate(90)" class="sf" font-size="14.5" text-anchor="middle">DTB</text>
<line x1="141.20" y1="764.40" x2="141.20" y2="780.80" stroke="#7a7a7a" stroke-width="0.55" stroke-dasharray="1.4 0.9"/>
<line x1="141.20" y1="796.30" x2="141.20" y2="809.60" stroke="#7a7a7a" stroke-width="0.55" stroke-dasharray="1.4 0.9"/>
<line x1="118.10" y1="764.40" x2="164.30" y2="764.40" stroke="#858585" stroke-width="0.85"/>
<line x1="118.10" y1="809.60" x2="164.30" y2="809.60" stroke="#858585" stroke-width="0.85"/>
<rect x="94.50" y="780.80" width="93.30" height="15.50" fill="#00ff00" stroke="#2e8a2e" stroke-width="0.7"/>
<line x1="141.20" y1="780.80" x2="141.20" y2="796.30" stroke="#333" stroke-width="0.5" stroke-dasharray="1.4 0.9" opacity="0.45"/>
<line x1="94.50" y1="787.80" x2="187.80" y2="787.80" stroke="#000" stroke-width="1.15" opacity="0.8"/>
<line x1="139.20" y1="787.00" x2="143.80" y2="787.00" stroke="#111" stroke-width="0.85"/>
<line x1="141.50" y1="784.70" x2="141.50" y2="789.30" stroke="#111" stroke-width="0.85"/>
<text transform="translate(141.20,815.60) scale(1.15,1)" font-size="4.6" text-anchor="middle" fill="#333" stroke="#333" stroke-width="0.08">10</text>
<text transform="translate(141.20,834.80) scale(1.15,1)" font-size="11.2" text-anchor="middle" fill="#1a1a1a" stroke="#1a1a1a" stroke-width="0.1">A</text>
<line x1="257.05" y1="736.00" x2="257.05" y2="761.20" stroke="#7a7a7a" stroke-width="0.55" stroke-dasharray="1.4 0.9"/>
<line x1="257.05" y1="778.50" x2="257.05" y2="800.90" stroke="#7a7a7a" stroke-width="0.55" stroke-dasharray="1.4 0.9"/>
<line x1="234.10" y1="736.00" x2="280.00" y2="736.00" stroke="#858585" stroke-width="0.85"/>
<line x1="234.10" y1="800.90" x2="280.00" y2="800.90" stroke="#858585" stroke-width="0.85"/>
<rect x="210.20" y="761.20" width="93.50" height="17.30" fill="#ffb6c1" stroke="#9a747c" stroke-width="0.7"/>
<line x1="257.05" y1="761.20" x2="257.05" y2="778.50" stroke="#333" stroke-width="0.5" stroke-dasharray="1.4 0.9" opacity="0.45"/>
<line x1="210.20" y1="769.40" x2="303.70" y2="769.40" stroke="#000" stroke-width="1.15" opacity="0.8"/>
<line x1="254.60" y1="768.40" x2="259.20" y2="768.40" stroke="#111" stroke-width="0.85"/>
<line x1="256.90" y1="766.10" x2="256.90" y2="770.70" stroke="#111" stroke-width="0.85"/>
<ellipse cx="257.05" cy="703.60" rx="1.15" ry="1.05" fill="none" stroke="#505050" stroke-width="0.5"/>
<ellipse cx="257.05" cy="714.20" rx="1.15" ry="1.05" fill="none" stroke="#505050" stroke-width="0.5"/>
<ellipse cx="257.05" cy="725.50" rx="1.15" ry="1.05" fill="none" stroke="#505050" stroke-width="0.5"/>
<ellipse cx="257.05" cy="730.50" rx="1.15" ry="1.05" fill="none" stroke="#505050" stroke-width="0.5"/>
<ellipse cx="257.05" cy="803.60" rx="1.15" ry="1.05" fill="none" stroke="#505050" stroke-width="0.5"/>
<ellipse cx="257.05" cy="807.90" rx="1.15" ry="1.05" fill="none" stroke="#505050" stroke-width="0.5"/>
<ellipse cx="257.05" cy="809.60" rx="1.15" ry="1.05" fill="none" stroke="#505050" stroke-width="0.5"/>
<text transform="translate(257.05,815.10) scale(1.15,1)" font-size="4.6" text-anchor="middle" fill="#333" stroke="#333" stroke-width="0.08">57</text>
<text transform="translate(257.05,834.80) scale(1.15,1)" font-size="11.2" text-anchor="middle" fill="#1a1a1a" stroke="#1a1a1a" stroke-width="0.1">G</text>
<line x1="141.20" y1="818.40" x2="257.05" y2="818.40" stroke="#b0b0b0" stroke-width="0.9"/>
<line x1="141.20" y1="818.00" x2="141.20" y2="821.00" stroke="#888" stroke-width="0.7"/>
<line x1="257.05" y1="818.00" x2="257.05" y2="821.00" stroke="#888" stroke-width="0.7"/>
<line x1="423.90" y1="703.40" x2="674.30" y2="703.40" stroke="#f5f5f5" stroke-width="0.8"/>
<line x1="423.90" y1="723.60" x2="674.30" y2="723.60" stroke="#f5f5f5" stroke-width="0.8"/>
<line x1="423.90" y1="743.80" x2="674.30" y2="743.80" stroke="#f5f5f5" stroke-width="0.8"/>
<line x1="423.90" y1="764.00" x2="674.30" y2="764.00" stroke="#f5f5f5" stroke-width="0.8"/>
<line x1="423.90" y1="784.20" x2="674.30" y2="784.20" stroke="#f5f5f5" stroke-width="0.8"/>
<line x1="423.90" y1="804.40" x2="674.30" y2="804.40" stroke="#f5f5f5" stroke-width="0.8"/>
<line x1="433.50" y1="696.30" x2="433.50" y2="817.70" stroke="#f3f3f3" stroke-width="0.8"/>
<line x1="548.70" y1="696.30" x2="548.70" y2="817.70" stroke="#f3f3f3" stroke-width="0.8"/>
<line x1="666.30" y1="696.30" x2="666.30" y2="817.70" stroke="#f3f3f3" stroke-width="0.8"/>
<line x1="491.00" y1="696.30" x2="491.00" y2="817.70" stroke="#f7f7f7" stroke-width="0.8"/>
<line x1="607.35" y1="696.30" x2="607.35" y2="817.70" stroke="#f7f7f7" stroke-width="0.8"/>
<line x1="423.90" y1="703.10" x2="423.90" y2="804.70" stroke="#8c8c8c" stroke-width="0.8"/>
<line x1="420.60" y1="703.40" x2="423.90" y2="703.40" stroke="#808080" stroke-width="0.6"/>
<line x1="420.60" y1="723.60" x2="423.90" y2="723.60" stroke="#808080" stroke-width="0.6"/>
<line x1="420.60" y1="743.80" x2="423.90" y2="743.80" stroke="#808080" stroke-width="0.6"/>
<line x1="420.60" y1="764.00" x2="423.90" y2="764.00" stroke="#808080" stroke-width="0.6"/>
<line x1="420.60" y1="784.20" x2="423.90" y2="784.20" stroke="#808080" stroke-width="0.6"/>
<line x1="420.60" y1="804.40" x2="423.90" y2="804.40" stroke="#808080" stroke-width="0.6"/>
<text transform="translate(417.30,707.90) scale(1.17,1)" font-size="11.2" text-anchor="end" fill="#1a1a1a" stroke="#1a1a1a" stroke-width="0.26"><tspan>1</tspan><tspan dx="-0.4">05</tspan></text>
<rect x="400.50" y="706.50" width="2.35" height="2.7" fill="#fff"/>
<rect x="386.06" y="697.40" width="13" height="12" fill="#fff"/>
<text transform="translate(417.30,728.10) scale(1.17,1)" font-size="11.2" text-anchor="end" fill="#1a1a1a" stroke="#1a1a1a" stroke-width="0.26"><tspan>1</tspan><tspan dx="-0.4">00</tspan></text>
<rect x="400.50" y="726.70" width="2.35" height="2.7" fill="#fff"/>
<rect x="386.06" y="717.60" width="13" height="12" fill="#fff"/>
<text transform="translate(417.30,748.30) scale(1.17,1)" font-size="11.2" text-anchor="end" fill="#1a1a1a" stroke="#1a1a1a" stroke-width="0.26">95</text>
<text transform="translate(417.30,768.50) scale(1.17,1)" font-size="11.2" text-anchor="end" fill="#1a1a1a" stroke="#1a1a1a" stroke-width="0.26">90</text>
<text transform="translate(417.30,788.70) scale(1.17,1)" font-size="11.2" text-anchor="end" fill="#1a1a1a" stroke="#1a1a1a" stroke-width="0.26">85</text>
<text transform="translate(417.30,808.90) scale(1.17,1)" font-size="11.2" text-anchor="end" fill="#1a1a1a" stroke="#1a1a1a" stroke-width="0.26">80</text>
<text x="372.30" y="713.40" class="sf" font-size="15" text-anchor="start">H</text>
<text transform="translate(368.40,749.40) rotate(90)" class="sf" font-size="14.4" text-anchor="middle">DTFL</text>
<line x1="491.00" y1="764.40" x2="491.00" y2="778.20" stroke="#7a7a7a" stroke-width="0.55" stroke-dasharray="1.4 0.9"/>
<line x1="491.00" y1="793.80" x2="491.00" y2="809.60" stroke="#7a7a7a" stroke-width="0.55" stroke-dasharray="1.4 0.9"/>
<line x1="468.10" y1="764.40" x2="513.90" y2="764.40" stroke="#858585" stroke-width="0.85"/>
<line x1="468.10" y1="809.60" x2="513.90" y2="809.60" stroke="#858585" stroke-width="0.85"/>
<rect x="444.50" y="778.20" width="93.10" height="15.60" fill="#00ff00" stroke="#2e8a2e" stroke-width="0.7"/>
<line x1="491.00" y1="778.20" x2="491.00" y2="793.80" stroke="#333" stroke-width="0.5" stroke-dasharray="1.4 0.9" opacity="0.45"/>
<line x1="444.50" y1="786.50" x2="537.60" y2="786.50" stroke="#000" stroke-width="1.15" opacity="0.8"/>
<line x1="488.90" y1="785.80" x2="493.50" y2="785.80" stroke="#111" stroke-width="0.85"/>
<line x1="491.20" y1="783.50" x2="491.20" y2="788.10" stroke="#111" stroke-width="0.85"/>
<text transform="translate(491.00,815.60) scale(1.17,1)" font-size="4.6" text-anchor="middle" fill="#333" stroke="#333" stroke-width="0.08">10</text>
<text transform="translate(491.00,835.00) scale(1.17,1)" font-size="11.2" text-anchor="middle" fill="#1a1a1a" stroke="#1a1a1a" stroke-width="0.1">A</text>
<line x1="607.35" y1="734.80" x2="607.35" y2="759.40" stroke="#7a7a7a" stroke-width="0.55" stroke-dasharray="1.4 0.9"/>
<line x1="607.35" y1="778.50" x2="607.35" y2="805.40" stroke="#7a7a7a" stroke-width="0.55" stroke-dasharray="1.4 0.9"/>
<line x1="584.10" y1="734.80" x2="630.60" y2="734.80" stroke="#858585" stroke-width="0.85"/>
<line x1="584.10" y1="805.40" x2="630.60" y2="805.40" stroke="#858585" stroke-width="0.85"/>
<rect x="560.20" y="759.40" width="93.50" height="19.10" fill="#ffb6c1" stroke="#9a747c" stroke-width="0.7"/>
<line x1="607.35" y1="759.40" x2="607.35" y2="778.50" stroke="#333" stroke-width="0.5" stroke-dasharray="1.4 0.9" opacity="0.45"/>
<line x1="560.20" y1="766.90" x2="653.70" y2="766.90" stroke="#000" stroke-width="1.15" opacity="0.8"/>
<line x1="604.90" y1="767.70" x2="609.50" y2="767.70" stroke="#111" stroke-width="0.85"/>
<line x1="607.20" y1="765.40" x2="607.20" y2="770.00" stroke="#111" stroke-width="0.85"/>
<ellipse cx="607.35" cy="705.10" rx="1.15" ry="1.05" fill="none" stroke="#505050" stroke-width="0.5"/>
<ellipse cx="607.35" cy="713.70" rx="1.15" ry="1.05" fill="none" stroke="#505050" stroke-width="0.5"/>
<ellipse cx="607.35" cy="726.20" rx="1.15" ry="1.05" fill="none" stroke="#505050" stroke-width="0.5"/>
<ellipse cx="607.35" cy="729.70" rx="1.15" ry="1.05" fill="none" stroke="#505050" stroke-width="0.5"/>
<ellipse cx="607.35" cy="808.40" rx="1.15" ry="1.05" fill="none" stroke="#505050" stroke-width="0.5"/>
<text transform="translate(607.35,815.90) scale(1.17,1)" font-size="4.6" text-anchor="middle" fill="#333" stroke="#333" stroke-width="0.08">57</text>
<text transform="translate(607.35,835.00) scale(1.17,1)" font-size="11.2" text-anchor="middle" fill="#1a1a1a" stroke="#1a1a1a" stroke-width="0.1">G</text>
<line x1="491.00" y1="818.20" x2="607.35" y2="818.20" stroke="#b0b0b0" stroke-width="0.9"/>
<line x1="491.00" y1="817.80" x2="491.00" y2="820.80" stroke="#888" stroke-width="0.7"/>
<line x1="607.35" y1="817.80" x2="607.35" y2="820.80" stroke="#888" stroke-width="0.7"/>
<line x1="251.70" y1="870.40" x2="502.30" y2="870.40" stroke="#f5f5f5" stroke-width="0.8"/>
<line x1="251.70" y1="889.65" x2="502.30" y2="889.65" stroke="#f5f5f5" stroke-width="0.8"/>
<line x1="251.70" y1="908.90" x2="502.30" y2="908.90" stroke="#f5f5f5" stroke-width="0.8"/>
<line x1="251.70" y1="928.15" x2="502.30" y2="928.15" stroke="#f5f5f5" stroke-width="0.8"/>
<line x1="251.70" y1="947.40" x2="502.30" y2="947.40" stroke="#f5f5f5" stroke-width="0.8"/>
<line x1="251.70" y1="966.65" x2="502.30" y2="966.65" stroke="#f5f5f5" stroke-width="0.8"/>
<line x1="261.20" y1="860.00" x2="261.20" y2="983.20" stroke="#f3f3f3" stroke-width="0.8"/>
<line x1="377.20" y1="860.00" x2="377.20" y2="983.20" stroke="#f3f3f3" stroke-width="0.8"/>
<line x1="494.00" y1="860.00" x2="494.00" y2="983.20" stroke="#f3f3f3" stroke-width="0.8"/>
<line x1="319.10" y1="860.00" x2="319.10" y2="983.20" stroke="#f7f7f7" stroke-width="0.8"/>
<line x1="435.35" y1="860.00" x2="435.35" y2="983.20" stroke="#f7f7f7" stroke-width="0.8"/>
<line x1="251.70" y1="870.10" x2="251.70" y2="966.95" stroke="#8c8c8c" stroke-width="0.8"/>
<line x1="248.40" y1="870.40" x2="251.70" y2="870.40" stroke="#808080" stroke-width="0.6"/>
<line x1="248.40" y1="889.65" x2="251.70" y2="889.65" stroke="#808080" stroke-width="0.6"/>
<line x1="248.40" y1="908.90" x2="251.70" y2="908.90" stroke="#808080" stroke-width="0.6"/>
<line x1="248.40" y1="928.15" x2="251.70" y2="928.15" stroke="#808080" stroke-width="0.6"/>
<line x1="248.40" y1="947.40" x2="251.70" y2="947.40" stroke="#808080" stroke-width="0.6"/>
<line x1="248.40" y1="966.65" x2="251.70" y2="966.65" stroke="#808080" stroke-width="0.6"/>
<text transform="translate(245.50,874.85) scale(1.135,1)" font-size="11.2" text-anchor="end" fill="#1a1a1a" stroke="#1a1a1a" stroke-width="0.26">100</text>
<rect x="224.96" y="873.45" width="2.39" height="2.7" fill="#fff"/>
<rect x="228.75" y="873.45" width="2.29" height="2.7" fill="#fff"/>
<text transform="translate(245.50,894.10) scale(1.135,1)" font-size="11.2" text-anchor="end" fill="#1a1a1a" stroke="#1a1a1a" stroke-width="0.26">95</text>
<text transform="translate(245.50,913.35) scale(1.135,1)" font-size="11.2" text-anchor="end" fill="#1a1a1a" stroke="#1a1a1a" stroke-width="0.26">90</text>
<text transform="translate(245.50,932.60) scale(1.135,1)" font-size="11.2" text-anchor="end" fill="#1a1a1a" stroke="#1a1a1a" stroke-width="0.26">85</text>
<text transform="translate(245.50,951.85) scale(1.135,1)" font-size="11.2" text-anchor="end" fill="#1a1a1a" stroke="#1a1a1a" stroke-width="0.26">80</text>
<text transform="translate(245.50,971.10) scale(1.135,1)" font-size="11.2" text-anchor="end" fill="#1a1a1a" stroke="#1a1a1a" stroke-width="0.26">75</text>
<text x="201.70" y="880.20" class="sf" font-size="14.5" text-anchor="start">I</text>
<text transform="translate(195.50,929.00) rotate(90)" class="sf" font-size="14.2" text-anchor="middle">DTHD</text>
<line x1="319.10" y1="929.40" x2="319.10" y2="943.00" stroke="#7a7a7a" stroke-width="0.55" stroke-dasharray="1.4 0.9"/>
<line x1="319.10" y1="960.30" x2="319.10" y2="974.90" stroke="#7a7a7a" stroke-width="0.55" stroke-dasharray="1.4 0.9"/>
<line x1="296.10" y1="929.40" x2="342.10" y2="929.40" stroke="#858585" stroke-width="0.85"/>
<line x1="296.10" y1="974.90" x2="342.10" y2="974.90" stroke="#858585" stroke-width="0.85"/>
<rect x="272.50" y="943.00" width="93.40" height="17.30" fill="#00ff00" stroke="#2e8a2e" stroke-width="0.7"/>
<line x1="319.10" y1="943.00" x2="319.10" y2="960.30" stroke="#333" stroke-width="0.5" stroke-dasharray="1.4 0.9" opacity="0.45"/>
<line x1="272.50" y1="951.30" x2="365.90" y2="951.30" stroke="#000" stroke-width="1.15" opacity="0.8"/>
<line x1="317.20" y1="950.50" x2="321.80" y2="950.50" stroke="#111" stroke-width="0.85"/>
<line x1="319.50" y1="948.20" x2="319.50" y2="952.80" stroke="#111" stroke-width="0.85"/>
<text transform="translate(319.10,980.60) scale(1.135,1)" font-size="4.6" text-anchor="middle" fill="#333" stroke="#333" stroke-width="0.08">10</text>
<text transform="translate(319.10,1000.00) scale(1.135,1)" font-size="11.2" text-anchor="middle" fill="#1a1a1a" stroke="#1a1a1a" stroke-width="0.1">A</text>
<line x1="435.35" y1="898.30" x2="435.35" y2="923.40" stroke="#7a7a7a" stroke-width="0.55" stroke-dasharray="1.4 0.9"/>
<line x1="435.35" y1="942.70" x2="435.35" y2="969.40" stroke="#7a7a7a" stroke-width="0.55" stroke-dasharray="1.4 0.9"/>
<line x1="412.10" y1="898.30" x2="458.60" y2="898.30" stroke="#858585" stroke-width="0.85"/>
<line x1="412.10" y1="969.40" x2="458.60" y2="969.40" stroke="#858585" stroke-width="0.85"/>
<rect x="388.50" y="923.40" width="93.50" height="19.30" fill="#ffb6c1" stroke="#9a747c" stroke-width="0.7"/>
<line x1="435.35" y1="923.40" x2="435.35" y2="942.70" stroke="#333" stroke-width="0.5" stroke-dasharray="1.4 0.9" opacity="0.45"/>
<line x1="388.50" y1="930.40" x2="482.00" y2="930.40" stroke="#000" stroke-width="1.15" opacity="0.8"/>
<line x1="432.90" y1="931.40" x2="437.50" y2="931.40" stroke="#111" stroke-width="0.85"/>
<line x1="435.20" y1="929.10" x2="435.20" y2="933.70" stroke="#111" stroke-width="0.85"/>
<ellipse cx="435.35" cy="868.60" rx="1.15" ry="1.05" fill="none" stroke="#505050" stroke-width="0.5"/>
<ellipse cx="435.35" cy="877.20" rx="1.15" ry="1.05" fill="none" stroke="#505050" stroke-width="0.5"/>
<ellipse cx="435.35" cy="889.70" rx="1.15" ry="1.05" fill="none" stroke="#505050" stroke-width="0.5"/>
<ellipse cx="435.35" cy="893.00" rx="1.15" ry="1.05" fill="none" stroke="#505050" stroke-width="0.5"/>
<ellipse cx="435.35" cy="973.40" rx="1.15" ry="1.05" fill="none" stroke="#505050" stroke-width="0.5"/>
<text transform="translate(435.35,980.90) scale(1.135,1)" font-size="4.6" text-anchor="middle" fill="#333" stroke="#333" stroke-width="0.08">57</text>
<text transform="translate(435.35,1000.00) scale(1.135,1)" font-size="11.2" text-anchor="middle" fill="#1a1a1a" stroke="#1a1a1a" stroke-width="0.1">G</text>
<line x1="319.10" y1="983.40" x2="435.35" y2="983.40" stroke="#b0b0b0" stroke-width="0.9"/>
<line x1="319.10" y1="983.00" x2="319.10" y2="986.00" stroke="#888" stroke-width="0.7"/>
<line x1="435.35" y1="983.00" x2="435.35" y2="986.00" stroke="#888" stroke-width="0.7"/>
</svg>
</body></html>
